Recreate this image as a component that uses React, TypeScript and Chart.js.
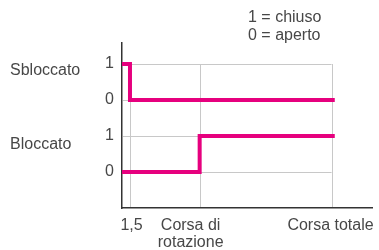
import { useEffect, useRef } from 'react';
import { Chart, registerables } from 'chart.js';
Chart.register(...registerables);

const rowLabels = ['Sbloccato', 'Bloccato'];
const rowLabelValues = [2.81, 0.77];
const yTickValues = [0, 1, 2, 3];
const yTickLabels = ['0', '1', '0', '1'];
const xGridValues = [1.5, 14.6, 39.4];
const xLabelValues = [1.8, 12.9, 39.2];
const xTickLabels: (string | string[])[] = ['1,5', ['Corsa di', 'rotazione'], 'Corsa totale'];
const sbloccatoX = [0, 1.5, 40];
const sbloccatoY = [3, 2, 2];
const bloccatoX = [0, 14.6, 40];
const bloccatoY = [0, 1, 1];
const legendLines = ['1 = chiuso', '0 = aperto'];

const FONT = 'Liberation Sans, Arial, sans-serif';
const TEXT = '#474747';
const PINK = '#e6007e';

export default function App() {
  const ref = useRef<HTMLCanvasElement | null>(null);
  useEffect(() => {
    if (!ref.current) return;
    const gridPlugin = {
      id: 'customGrid',
      beforeDraw(chart: any) {
        const { ctx, scales } = chart;
        const x = scales.x, y = scales.y;
        ctx.save();
        ctx.strokeStyle = '#c8c8c8';
        ctx.lineWidth = 1;
        const xL = x.getPixelForValue(0) + 1;
        const xR = x.getPixelForValue(xGridValues[xGridValues.length - 1]);
        yTickValues.forEach((v) => {
          const py = Math.round(y.getPixelForValue(v)) + 0.5;
          ctx.beginPath();
          ctx.moveTo(xL, py);
          ctx.lineTo(xR, py);
          ctx.stroke();
        });
        const yT = y.getPixelForValue(yTickValues[yTickValues.length - 1]);
        const yB = y.getPixelForValue(-1) - 1;
        xGridValues.forEach((v) => {
          const px = Math.round(x.getPixelForValue(v)) + 0.5;
          ctx.beginPath();
          ctx.moveTo(px, yT);
          ctx.lineTo(px, yB);
          ctx.stroke();
        });
        ctx.restore();
      },
      afterDraw(chart: any) {
        const { ctx, scales } = chart;
        ctx.save();
        ctx.fillStyle = TEXT;
        ctx.font = `16px ${FONT}`;
        ctx.textAlign = 'left';
        ctx.textBaseline = 'middle';
        rowLabels.forEach((t, i) => {
          ctx.fillText(t, 10, scales.y.getPixelForValue(rowLabelValues[i]));
        });
        legendLines.forEach((t, i) => {
          ctx.fillText(t, 248, 17.5 + i * 18.3);
        });
        ctx.restore();
      },
    };
    const chart = new Chart(ref.current, {
      type: 'line',
      data: {
        datasets: [
          {
            data: sbloccatoX.map((x, i) => ({ x, y: sbloccatoY[i] })),
            borderColor: PINK,
            borderWidth: 4,
            pointRadius: 0,
            stepped: true,
            fill: false,
          },
          {
            data: bloccatoX.map((x, i) => ({ x, y: bloccatoY[i] })),
            borderColor: PINK,
            borderWidth: 4,
            pointRadius: 0,
            stepped: true,
            fill: false,
          },
        ],
      },
      options: {
        animation: false,
        responsive: false,
        devicePixelRatio: 1,
        layout: { padding: { left: 97.1, top: 43, right: 7, bottom: -10.3 } },
        plugins: { legend: { display: false }, tooltip: { enabled: false }, title: { display: false } },
        scales: {
          x: {
            type: 'linear',
            min: 0,
            max: 47,
            grid: { display: false, drawTicks: false },
            border: { display: true, color: '#333333', width: 1.5 },
            afterBuildTicks: (axis: any) => {
              axis.ticks = xLabelValues.map((v) => ({ value: v }));
            },
            afterFit: (axis: any) => {
              axis.paddingLeft = 0;
              axis.paddingRight = 0;
            },
            ticks: {
              autoSkip: false,
              maxRotation: 0,
              minRotation: 0,
              padding: 9.5,
              color: TEXT,
              font: { family: FONT, size: 16, lineHeight: 1.04 },
              callback: (_v: any, i: number) => xTickLabels[i],
            },
          },
          y: {
            type: 'linear',
            min: -1,
            max: 3.583,
            grid: { display: false, drawTicks: false },
            border: { display: true, color: '#333333', width: 1.5 },
            afterBuildTicks: (axis: any) => {
              axis.ticks = yTickValues.map((v) => ({ value: v }));
            },
            ticks: {
              padding: 8,
              color: TEXT,
              font: { family: FONT, size: 16 },
              callback: (v: any) => yTickLabels[yTickValues.indexOf(v)],
            },
          },
        },
      } as any,
      plugins: [gridPlugin],
    });
    return () => chart.destroy();
  }, []);
  return (
    <div style={{ position: 'fixed', left: 0, top: 0, width: 379, height: 250, background: '#fff' }}>
      <canvas ref={ref} width={379} height={250} />
    </div>
  );
}
